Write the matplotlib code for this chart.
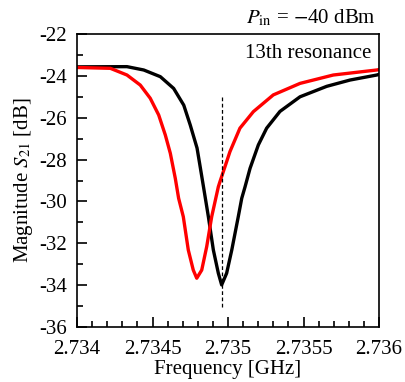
import matplotlib
matplotlib.use("Agg")
import matplotlib.pyplot as plt
from matplotlib.ticker import MultipleLocator

plt.rcParams['font.family'] = ['Liberation Serif', 'DejaVu Serif']
plt.rcParams['mathtext.fontset'] = 'stix'

# Black trace (frequency in GHz, |S21| in dB)
black_f = [2.734000, 2.734331, 2.734442, 2.734552, 2.734640, 2.734707, 2.734750,
           2.734795, 2.734817, 2.734839, 2.734870, 2.734903, 2.734936, 2.734958,
           2.734991, 2.735025, 2.735068, 2.735091, 2.735113, 2.735146, 2.735201,
           2.735256, 2.735344, 2.735477, 2.735654, 2.735808, 2.735985, 2.736000]
black_s = [-23.57, -23.56, -23.72, -24.04, -24.60, -25.40, -26.35,
           -27.45, -28.40, -29.36, -30.73, -32.32, -33.43, -33.99,
           -33.43, -32.32, -30.73, -29.85, -29.30, -28.42, -27.30,
           -26.50, -25.70, -25.00, -24.50, -24.20, -23.96, -23.93]

# Red trace
red_f = [2.734000, 2.734221, 2.734331, 2.734419, 2.734485, 2.734541, 2.734585,
         2.734618, 2.734651, 2.734673, 2.734704, 2.734737, 2.734770, 2.734793,
         2.734826, 2.734859, 2.734892, 2.734936, 2.734947, 2.734980, 2.735013,
         2.735079, 2.735168, 2.735300, 2.735477, 2.735697, 2.735985, 2.736000]
red_s = [-23.60, -23.64, -23.96, -24.44, -25.07, -25.87, -26.83,
         -27.70, -28.90, -29.85, -30.73, -32.32, -33.28, -33.67,
         -33.28, -32.16, -30.73, -29.30, -29.05, -28.34, -27.62,
         -26.50, -25.71, -24.91, -24.36, -23.96, -23.72, -23.70]

marker_f = 2.73496
marker_s = [-25.0, -35.05]

x_ticks = [2.734, 2.7345, 2.735, 2.7355, 2.736]
x_labels = ['2.734', '2.7345', '2.735', '2.7355', '2.736']
y_ticks = [-36, -34, -32, -30, -28, -26, -24, -22]
y_labels = ['-36', '-34', '-32', '-30', '-28', '-26', '-24', '-22']

fig = plt.figure(figsize=(4.05, 3.82), dpi=100)
ax = fig.add_axes([77/405, 1-327/382, (379-77)/405, (327-34)/382])

ax.plot(black_f, black_s, color='black', lw=2.4, solid_joinstyle='round')
ax.plot(red_f, red_s, color='red', lw=2.4, solid_joinstyle='round')
ax.plot([marker_f, marker_f], marker_s, color='black', lw=0.9, ls=(0, (3, 2)))

ax.set_xlim(2.734, 2.736)
ax.set_ylim(-36, -22)
ax.xaxis.set_minor_locator(MultipleLocator(0.0001))
ax.yaxis.set_minor_locator(MultipleLocator(1))
ax.set_xticks(x_ticks)
ax.set_xticklabels(x_labels)
ax.set_yticks(y_ticks)
ax.set_yticklabels(y_labels)
ax.tick_params(which='both', direction='in', labelsize=15, width=1.2)
ax.tick_params(which='major', length=7)
ax.tick_params(which='minor', length=4)
ax.tick_params(axis='x', pad=9)
ax.tick_params(axis='y', pad=7)
for s in ax.spines.values():
    s.set_linewidth(1.2)

ax.set_xlabel('Frequency [GHz]', fontsize=15, labelpad=1)
ax.set_ylabel(r'Magnitude $S_{21}$ [dB]', fontsize=15, labelpad=3)

fig.text(376/405, 1-18/382, r'$P_{\mathrm{in}}$ = $-$40 dBm', ha='right', va='center', fontsize=15)
ax.text(0.975, 0.965, '13th resonance', transform=ax.transAxes, ha='right', va='top', fontsize=15)

fig.savefig('out.png', dpi=100)
